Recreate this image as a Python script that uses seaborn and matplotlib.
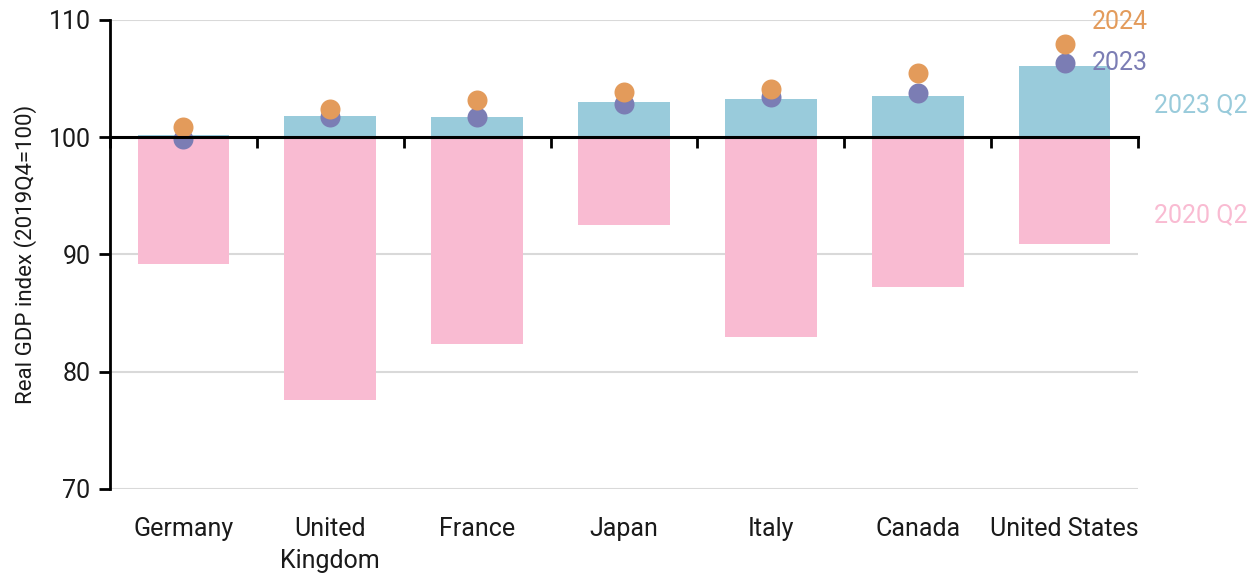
import matplotlib
matplotlib.use("Agg")
import matplotlib.pyplot as plt
import numpy as np
import pandas as pd
import seaborn as sns

# Real GDP index, 2019Q4 = 100
countries = ["Germany", "United\nKingdom", "France", "Japan", "Italy", "Canada", "United States"]
q2_2020 = [89.2, 77.55, 82.35, 92.5, 82.95, 87.2, 90.9]
q2_2023 = [100.2, 101.8, 101.7, 103.03, 103.3, 103.5, 106.08]
y2023 = [99.85, 101.7, 101.75, 102.85, 103.4, 103.75, 106.35]
y2024 = [100.9, 102.4, 103.2, 103.9, 104.1, 105.45, 107.95]
y_ticks = [70, 80, 90, 100, 110]
base = 100

C_PINK = "#F9BBD2"
C_BLUE = "#99CBDB"
C_PURPLE = "#7B7DB4"
C_ORANGE = "#E39B5B"
C_GRID = "#D9D9D9"

sns.set_theme(style="white")
plt.rcParams["font.family"] = ["Roboto", "DejaVu Sans"]
plt.rcParams["font.size"] = 18

df = pd.DataFrame({
    "country": countries,
    "trough": np.array(q2_2020) - base,
    "recent": np.array(q2_2023) - base,
})

fig = plt.figure(figsize=(12.51, 5.76), dpi=100)
ax = fig.add_axes([110 / 1251, 1 - 489 / 576, (1138 - 110) / 1251, (489 - 20) / 576])

# bars measured from the 100 baseline
sns.barplot(data=df, x="country", y="trough", color=C_PINK, saturation=1,
            width=0.625, bottom=base, ax=ax, zorder=2, linewidth=0)
sns.barplot(data=df, x="country", y="recent", color=C_BLUE, saturation=1,
            width=0.625, bottom=base, ax=ax, zorder=2, linewidth=0)

# annual points
sns.stripplot(x=countries, y=y2023, jitter=False, color=C_PURPLE, size=14.4,
              linewidth=0, ax=ax, zorder=4)
sns.stripplot(x=countries, y=y2024, jitter=False, color=C_ORANGE, size=14.4,
              linewidth=0, ax=ax, zorder=5)

ax.set_xlim(-0.5, len(countries) - 0.5)
ax.set_ylim(70, 110)
ax.set_yticks(y_ticks)
ax.set_yticklabels([str(v) for v in y_ticks], fontsize=18, color="#1a1a1a")
for v in y_ticks:
    if v != base:
        ax.axhline(v, color=C_GRID, lw=1.5, zorder=1)

ax.set_ylabel("Real GDP index (2019Q4=100)", fontsize=16, color="#1a1a1a", labelpad=8)
ax.set_xlabel("")
ax.tick_params(axis="x", length=0, pad=20, labelsize=18, labelcolor="#1a1a1a")
for lbl in ax.get_xticklabels():
    lbl.set_linespacing(1.45)
ax.tick_params(axis="y", direction="out", length=8, width=2, color="black", pad=6, left=True)

for s in ["top", "right", "bottom"]:
    ax.spines[s].set_visible(False)
ax.spines["left"].set_color("black")
ax.spines["left"].set_linewidth(2)
ax.spines["left"].set_zorder(6)

# baseline at 100 with category separators
sec = ax.secondary_xaxis((base - 70) / (110 - 70))
sec.set_alignment("bottom")
sec.set_xticks(np.arange(-0.5, len(countries), 1.0))
sec.set_xticklabels([])
sec.tick_params(axis="x", direction="out", length=8, width=2, color="black")
sec.spines["bottom"].set_color("black")
sec.spines["bottom"].set_linewidth(2.2)
sec.set_zorder(6)

# series labels at the right edge
kw = dict(fontsize=18, clip_on=False, va="center")
ax.text(6.57, 109.85, "2024", color=C_ORANGE, ha="right", **kw)
ax.text(6.57, 106.33, "2023", color=C_PURPLE, ha="right", **kw)
ax.text(6.61, 102.75, "2023 Q2", color=C_BLUE, ha="left", **kw)
ax.text(6.61, 93.4, "2020 Q2", color=C_PINK, ha="left", **kw)

fig.savefig("out.png", dpi=100)
